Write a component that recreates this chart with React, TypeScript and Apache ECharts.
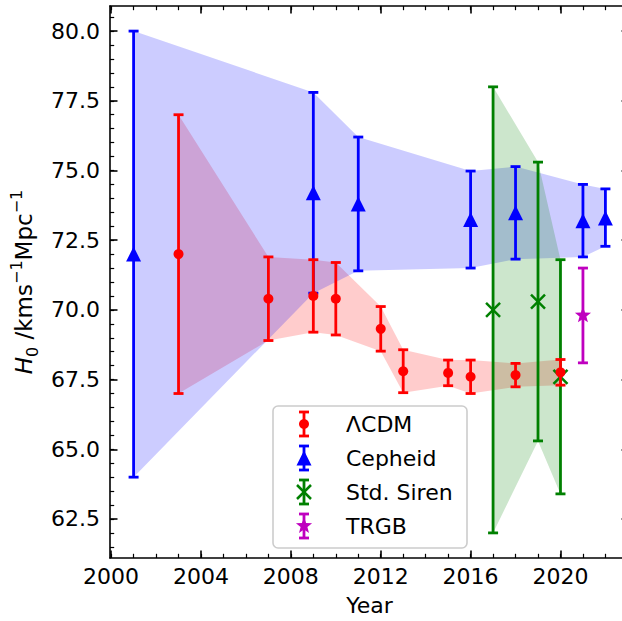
import React, { useEffect, useRef } from 'react';
import * as echarts from 'echarts';

// ---------------- data ----------------
const lcdmYears = [2003, 2007, 2009, 2010, 2012, 2013, 2015, 2016, 2018, 2020];
const lcdmH0 = [72.0, 70.4, 70.5, 70.4, 69.32, 67.8, 67.74, 67.6, 67.66, 67.76];
const lcdmLo = [67.0, 68.9, 69.2, 69.1, 68.52, 67.03, 67.28, 67.0, 67.24, 67.3];
const lcdmHi = [77.0, 71.9, 71.8, 71.7, 70.12, 68.57, 68.2, 68.2, 68.08, 68.22];

const cephYears = [2001, 2009, 2011, 2016, 2018, 2021, 2022];
const cephH0 = [72.0, 74.2, 73.8, 73.24, 73.48, 73.2, 73.3];
const cephLo = [64.0, 70.6, 71.4, 71.5, 71.82, 71.9, 72.28];
const cephHi = [80.0, 77.8, 76.2, 74.98, 75.14, 74.5, 74.34];

const sirenYears = [2017, 2019, 2020];
const sirenH0 = [70.0, 70.3, 67.6];
const sirenLo = [62.0, 65.3, 63.4];
const sirenHi = [78.0, 75.3, 71.8];

const trgbYears = [2021];
const trgbH0 = [69.8];
const trgbLo = [68.1];
const trgbHi = [71.5];

const xMajorTicks = [2000, 2004, 2008, 2012, 2016, 2020];
const xMinorTicks = [2000, 2001, 2002, 2003, 2004, 2005, 2006, 2007, 2008, 2009, 2010, 2011, 2012, 2013, 2014, 2015, 2016, 2017, 2018, 2019, 2020, 2021, 2022, 2023];
const yMajorTicks = [62.5, 65.0, 67.5, 70.0, 72.5, 75.0, 77.5, 80.0];
const yMinorTicks = [61.5, 62.0, 62.5, 63.0, 63.5, 64.0, 64.5, 65.0, 65.5, 66.0, 66.5, 67.0, 67.5, 68.0, 68.5, 69.0, 69.5, 70.0, 70.5, 71.0, 71.5, 72.0, 72.5, 73.0, 73.5, 74.0, 74.5, 75.0, 75.5, 76.0, 76.5, 77.0, 77.5, 78.0, 78.5, 79.0, 79.5, 80.0, 80.5];

const X_MIN = 1999.95;
const X_MAX = 2023.05;
const Y_MIN = 61.1;
const Y_MAX = 80.9;

const FONT = "'DejaVu Sans', sans-serif";
const RED = '#ff0000';
const BLUE = '#0000ff';
const GREEN = '#008000';
const MAGENTA = '#bf00bf';

const LW = 2.8;
const CAP = 5;

type MarkerKind = 'circle' | 'triangle' | 'x' | 'star';

function markerShape(kind: MarkerKind, cx: number, cy: number, s: number, color: string): any {
  const h = s / 2;
  if (kind === 'circle') {
    return { type: 'circle', shape: { cx, cy, r: h }, style: { fill: color } };
  }
  if (kind === 'triangle') {
    return {
      type: 'polygon',
      shape: { points: [[cx, cy - h], [cx - h, cy + h], [cx + h, cy + h]] },
      style: { fill: color },
    };
  }
  if (kind === 'x') {
    return {
      type: 'group',
      children: [
        { type: 'line', shape: { x1: cx - h, y1: cy - h, x2: cx + h, y2: cy + h }, style: { stroke: color, lineWidth: 2.5 } },
        { type: 'line', shape: { x1: cx - h, y1: cy + h, x2: cx + h, y2: cy - h }, style: { stroke: color, lineWidth: 2.5 } },
      ],
    };
  }
  const pts: number[][] = [];
  for (let i = 0; i < 10; i++) {
    const r = i % 2 === 0 ? h : h * 0.42;
    const a = -Math.PI / 2 + (i * Math.PI) / 5;
    pts.push([cx + r * Math.cos(a), cy + r * Math.sin(a)]);
  }
  return { type: 'polygon', shape: { points: pts }, style: { fill: color } };
}

function errorBarGroup(cx: number, cy: number, yl: number, yh: number, color: string, kind: MarkerKind, size: number): any {
  const st = { stroke: color, lineWidth: LW };
  return {
    type: 'group',
    children: [
      { type: 'line', shape: { x1: cx, y1: yl, x2: cx, y2: yh }, style: st },
      { type: 'line', shape: { x1: cx - CAP, y1: yl, x2: cx + CAP, y2: yl }, style: st },
      { type: 'line', shape: { x1: cx - CAP, y1: yh, x2: cx + CAP, y2: yh }, style: st },
      markerShape(kind, cx, cy, size, color),
    ],
  };
}

function errorSeries(name: string, color: string, years: number[], h0: number[], lo: number[], hi: number[], kind: MarkerKind, size: number, z: number): any {
  return {
    type: 'custom',
    name,
    xAxisIndex: 0,
    yAxisIndex: 0,
    z,
    clip: false,
    data: years.map((y, i) => [y, h0[i], lo[i], hi[i]]),
    encode: { x: 0, y: [1, 2, 3] },
    renderItem: (_params: any, api: any) => {
      const x = api.value(0);
      const p = api.coord([x, api.value(1)]);
      const pl = api.coord([x, api.value(2)]);
      const ph = api.coord([x, api.value(3)]);
      return errorBarGroup(p[0], p[1], pl[1], ph[1], color, kind, size);
    },
  };
}

function fillSeries(name: string, color: string, years: number[], lo: number[], hi: number[], z: number): any {
  return {
    type: 'custom',
    name: name + ' band',
    xAxisIndex: 0,
    yAxisIndex: 0,
    z,
    silent: true,
    data: years.map((y, i) => [y, lo[i], hi[i]]),
    encode: { x: 0, y: [1, 2] },
    renderItem: (params: any, api: any) => {
      if (params.dataIndex !== 0) return { type: 'group', children: [] };
      const upper = years.map((y, i) => api.coord([y, hi[i]]));
      const lower = years.map((y, i) => api.coord([y, lo[i]])).reverse();
      return {
        type: 'polygon',
        shape: { points: upper.concat(lower) },
        style: { fill: color, opacity: 0.2 },
      };
    },
  };
}

const legendItems: { name: string; color: string; kind: MarkerKind; size: number }[] = [
  { name: 'ΛCDM', color: RED, kind: 'circle', size: 10 },
  { name: 'Cepheid', color: BLUE, kind: 'triangle', size: 15 },
  { name: 'Std. Siren', color: GREEN, kind: 'x', size: 14 },
  { name: 'TRGB', color: MAGENTA, kind: 'star', size: 17 },
];

function buildLegend(): any {
  const children: any[] = [
    {
      type: 'rect',
      shape: { x: 273, y: 406, width: 194, height: 142, r: 5 },
      style: { fill: 'rgba(255,255,255,0.8)', stroke: '#cccccc', lineWidth: 1.6 },
    },
  ];
  legendItems.forEach((it, i) => {
    const cy = 424 + i * 34;
    const cx = 304;
    children.push(errorBarGroup(cx, cy, cy + 12, cy - 12, it.color, it.kind, it.size));
    children.push({
      type: 'text',
      style: {
        x: 346,
        y: cy,
        text: it.name,
        fill: '#000',
        font: `22px ${FONT}`,
        textVerticalAlign: 'middle',
        verticalAlign: 'middle',
        align: 'left',
      },
    });
  });
  return { type: 'group', x: 0, y: 0, z: 100, children };
}

const axisLineStyle = { color: '#000', width: 1.6 };

function xAxisDef(position: 'top' | 'bottom', major: boolean, primary: boolean): any {
  return {
    type: 'value',
    position,
    min: X_MIN,
    max: X_MAX,
    splitLine: { show: false },
    axisLine: { show: major, onZero: false, lineStyle: axisLineStyle },
    axisTick: {
      show: true,
      inside: true,
      length: major ? 7.5 : 4.2,
      customValues: major ? xMajorTicks : xMinorTicks,
      lineStyle: { color: '#000', width: major ? 1.6 : 1.2 },
    },
    axisLabel: primary
      ? { show: true, customValues: xMajorTicks, margin: 7, fontSize: 22, fontFamily: FONT, color: '#000', formatter: (v: number) => String(Math.round(v)) }
      : { show: false },
    name: primary ? 'Year' : '',
    nameLocation: 'middle',
    nameGap: 36,
    nameTextStyle: { fontSize: 22, fontFamily: FONT, color: '#000' },
  };
}

function yAxisDef(position: 'left' | 'right', major: boolean, primary: boolean): any {
  return {
    type: 'value',
    position,
    min: Y_MIN,
    max: Y_MAX,
    splitLine: { show: false },
    axisLine: { show: major, onZero: false, lineStyle: axisLineStyle },
    axisTick: {
      show: true,
      inside: true,
      length: major ? 7.5 : 4.2,
      customValues: major ? yMajorTicks : yMinorTicks,
      lineStyle: { color: '#000', width: major ? 1.6 : 1.2 },
    },
    axisLabel: primary
      ? { show: true, customValues: yMajorTicks, margin: 10, fontSize: 22, fontFamily: FONT, color: '#000', formatter: (v: number) => v.toFixed(1) }
      : { show: false },
    name: primary ? '{i|H}{sub|0}{n| /kms}{sup|−1}{n|Mpc}{sup|−1}' : '',
    nameLocation: 'middle',
    nameRotate: 90,
    nameGap: 70,
    nameTextStyle: {
      fontSize: 23,
      fontFamily: FONT,
      color: '#000',
      rich: {
        i: { fontSize: 23, fontFamily: FONT, fontStyle: 'italic', lineHeight: 32, color: '#000' },
        n: { fontSize: 23, fontFamily: FONT, lineHeight: 32, color: '#000' },
        sub: { fontSize: 16, fontFamily: FONT, lineHeight: 22, verticalAlign: 'bottom', color: '#000' },
        sup: { fontSize: 16, fontFamily: FONT, lineHeight: 16, verticalAlign: 'top', color: '#000' },
      },
    },
  };
}

export default function App() {
  const ref = useRef<HTMLDivElement>(null);
  useEffect(() => {
    if (!ref.current) return;
    const chart = echarts.init(ref.current, undefined, { renderer: 'svg' });
    chart.setOption({
      animation: false,
      backgroundColor: '#ffffff',
      grid: { left: 110, top: 6, width: 519, height: 553, containLabel: false },
      xAxis: [
        xAxisDef('bottom', true, true),
        xAxisDef('bottom', false, false),
        xAxisDef('top', true, false),
        xAxisDef('top', false, false),
      ],
      yAxis: [
        yAxisDef('left', true, true),
        yAxisDef('left', false, false),
        yAxisDef('right', true, false),
        yAxisDef('right', false, false),
      ],
      series: [
        fillSeries('ΛCDM', RED, lcdmYears, lcdmLo, lcdmHi, 1),
        fillSeries('Cepheid', BLUE, cephYears, cephLo, cephHi, 1),
        fillSeries('Std. Siren', GREEN, sirenYears, sirenLo, sirenHi, 1),
        errorSeries('Cepheid', BLUE, cephYears, cephH0, cephLo, cephHi, 'triangle', 15, 3),
        errorSeries('Std. Siren', GREEN, sirenYears, sirenH0, sirenLo, sirenHi, 'x', 14, 4),
        errorSeries('TRGB', MAGENTA, trgbYears, trgbH0, trgbLo, trgbHi, 'star', 17, 5),
        errorSeries('ΛCDM', RED, lcdmYears, lcdmH0, lcdmLo, lcdmHi, 'circle', 10, 6),
      ],
      graphic: { elements: [buildLegend()] },
    });
    return () => chart.dispose();
  }, []);
  return (
    <div style={{ position: 'fixed', left: 0, top: 0, width: 622, height: 621, overflow: 'hidden', background: '#fff' }}>
      <div ref={ref} style={{ width: 640, height: 621 }} />
    </div>
  );
}
